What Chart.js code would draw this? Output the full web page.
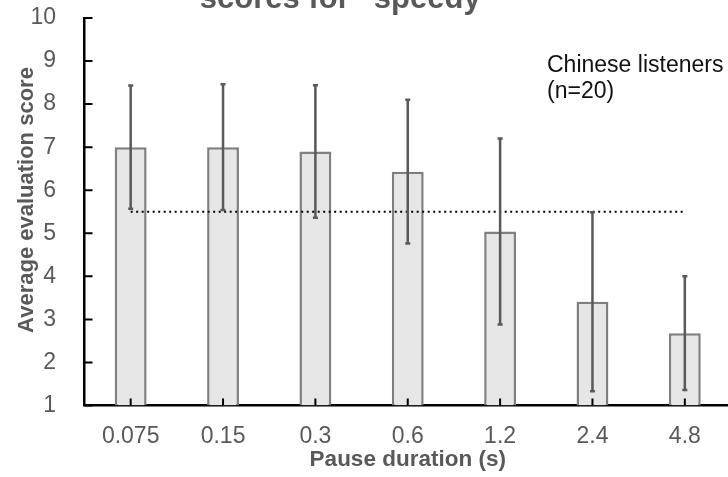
<!DOCTYPE html>
<html>
<head>
<meta charset="utf-8">
<script src="https://cdn.jsdelivr.net/npm/chart.js@4.4.1/dist/chart.umd.min.js"></script>
<style>
  html, body { margin: 0; padding: 0; background: #fff; overflow: hidden; }
  body { width: 728px; height: 477px; position: relative; }
  #wrap { position: absolute; left: 0; top: 0; width: 740px; height: 477px; }
</style>
</head>
<body>
<div id="wrap"><canvas id="myChart"></canvas></div>
<script>
const durations = ['0.075', '0.15', '0.3', '0.6', '1.2', '2.4', '4.8'];
const meanScores = [7.0, 7.0, 6.9, 6.43, 5.04, 3.41, 2.68];
const sdScores = [1.43, 1.46, 1.54, 1.67, 2.16, 2.08, 1.32];
const midScore = 5.5;
const scoreMin = 1;
const scoreMax = 10;

const FONT = "'Liberation Sans', Arial, sans-serif";
const GREY_TEXT = '#595959';

// whiskers for +/- one SD on each bar
const errorBars = {
  id: 'errorBars',
  afterDatasetsDraw(chart) {
    const { ctx, scales: { y } } = chart;
    const meta = chart.getDatasetMeta(1);
    ctx.save();
    ctx.strokeStyle = '#595959';
    ctx.lineWidth = 2.5;
    meta.data.forEach((bar, i) => {
      const top = y.getPixelForValue(meanScores[i] + sdScores[i]);
      const bottom = y.getPixelForValue(meanScores[i] - sdScores[i]);
      ctx.beginPath();
      ctx.moveTo(bar.x, top);
      ctx.lineTo(bar.x, bottom);
      ctx.moveTo(bar.x - 2.5, top);
      ctx.lineTo(bar.x + 2.5, top);
      ctx.moveTo(bar.x - 2.5, bottom);
      ctx.lineTo(bar.x + 2.5, bottom);
      ctx.stroke();
    });
    ctx.restore();
  }
};

// tick marks pointing into the plot area
const innerTicks = {
  id: 'innerTicks',
  afterDraw(chart) {
    const { ctx, chartArea, scales: { x, y } } = chart;
    ctx.save();
    ctx.strokeStyle = '#000';
    ctx.lineWidth = 2;
    ctx.beginPath();
    for (let v = scoreMin; v <= scoreMax; v++) {
      const py = y.getPixelForValue(v);
      ctx.moveTo(chartArea.left, py);
      ctx.lineTo(chartArea.left + 8, py);
    }
    durations.forEach((d, i) => {
      const px = x.getPixelForValue(i);
      ctx.moveTo(px, chartArea.bottom);
      ctx.lineTo(px, chartArea.bottom - 7);
    });
    ctx.stroke();
    ctx.restore();
  }
};

// heading, y axis title and the group note
const labels = {
  id: 'labels',
  afterDraw(chart) {
    const { ctx } = chart;
    ctx.save();
    ctx.fillStyle = GREY_TEXT;
    ctx.textAlign = 'center';
    ctx.textBaseline = 'alphabetic';
    ctx.font = `bold 31px ${FONT}`;
    ctx.fillText('scores for “speedy”', 348, 7.5);

    ctx.save();
    ctx.translate(32.5, 200);
    ctx.rotate(-Math.PI / 2);
    ctx.font = `bold 22px ${FONT}`;
    ctx.fillText('Average evaluation score', 0, 0);
    ctx.restore();

    ctx.fillStyle = '#111';
    ctx.textAlign = 'left';
    ctx.font = `23px ${FONT}`;
    ctx.fillText('Chinese listeners', 547, 72);
    ctx.fillText('(n=20)', 547, 98);
    ctx.restore();
  }
};

const ctx = document.getElementById('myChart');

const data = {
  labels: durations,
  datasets: [
    {
      type: 'line',
      data: durations.map(() => midScore),
      borderColor: '#000',
      borderWidth: 2,
      borderDash: [2, 3.5],
      pointRadius: 0,
      fill: false,
      order: 0,
    },
    {
      type: 'bar',
      data: meanScores,
      backgroundColor: '#e6e6e6',
      borderColor: '#7f7f7f',
      borderWidth: 2.5,
      borderSkipped: 'start',
      base: scoreMin,
      barPercentage: 0.345,
      categoryPercentage: 1,
      order: 1,
    },
  ],
};

const options = {
  responsive: true,
  maintainAspectRatio: false,
  animation: false,
  layout: { padding: { left: 0, right: 9, top: 18, bottom: 0 } },
  plugins: {
    legend: { display: false },
    tooltip: { enabled: false },
  },
  scales: {
    x: {
      grid: { display: false },
      border: { display: true, color: '#000', width: 2.5 },
      ticks: {
        color: GREY_TEXT,
        font: { family: FONT, size: 23 },
        padding: 9,
        maxRotation: 0,
        autoSkip: false,
      },
      title: {
        display: true,
        text: 'Pause duration (s)',
        color: GREY_TEXT,
        font: { family: FONT, size: 22.5, weight: 'bold' },
        padding: { top: 0, bottom: 3.5 },
      },
      afterFit(scale) { scale.height = 71.5; },
    },
    y: {
      min: scoreMin,
      max: scoreMax,
      grid: { display: false },
      border: { display: true, color: '#000', width: 2.5 },
      ticks: {
        stepSize: 1,
        color: GREY_TEXT,
        font: { family: FONT, size: 23 },
        padding: 20.5,
      },
      afterFit(scale) {
        scale.width = 84.5;
        scale.paddingTop = 0;
      },
    },
  },
};

const chart = new Chart(ctx, {
  data,
  options,
  plugins: [errorBars, innerTicks, labels],
});
</script>
</body>
</html>
